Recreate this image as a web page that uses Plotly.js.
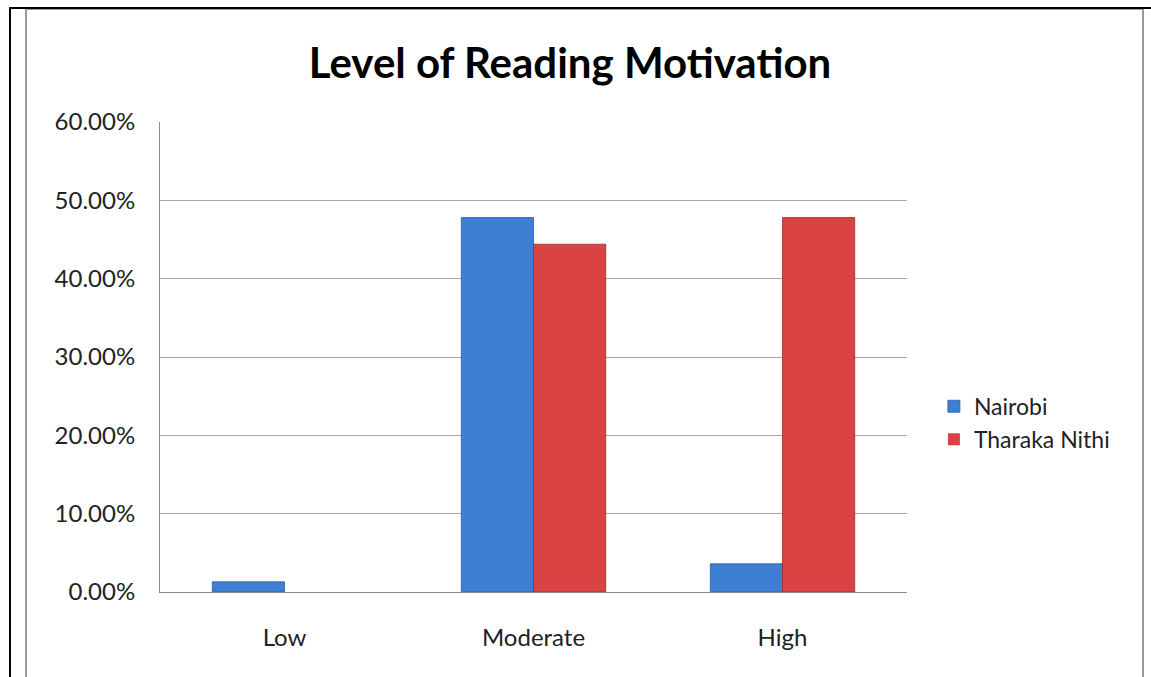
<!DOCTYPE html>
<html>
<head>
<meta charset="utf-8">
<script src="https://cdn.plot.ly/plotly-3.0.1.min.js"></script>
<style>
  html, body { margin: 0; padding: 0; background: #fff; width: 1151px; height: 677px; overflow: hidden; }
  #outer { position: absolute; left: 9px; top: 7px; width: 1200px; height: 800px; border-left: 2px solid #000; border-top: 2px solid #000; }
  #frame { position: absolute; left: 25px; top: 9px; width: 1115px; height: 800px; border-left: 2px solid #9a9a9a; border-top: 1px solid #9a9a9a; border-right: 2px solid #9a9a9a; }
  #chart { position: absolute; left: 0; top: 0; width: 1151px; height: 677px; }
</style>
</head>
<body>
<div id="outer"></div>
<div id="frame"></div>
<div id="chart"></div>
<script>
const categories = ["Low", "Moderate", "High"];
const nairobi = [0.013, 0.478, 0.036];
const tharakaNithi = [0.0, 0.444, 0.478];
const seriesNames = ["Nairobi", "Tharaka Nithi"];
const yTickValues = [0, 0.1, 0.2, 0.3, 0.4, 0.5, 0.6];

const font = "Lato, 'Open Sans', 'DejaVu Sans', sans-serif";
const edge = vals => vals.map(v => (v > 0 ? 0.8 : 0));

const traces = [
  {
    type: "bar", name: seriesNames[0], x: categories, y: nairobi,
    marker: { color: "#3f7fd3", line: { color: "#2b5e9e", width: edge(nairobi) } },
    hoverinfo: "x+y+name"
  },
  {
    type: "bar", name: seriesNames[1], x: categories, y: tharakaNithi,
    marker: { color: "#d94343", line: { color: "#9e2a2a", width: edge(tharakaNithi) } },
    hoverinfo: "x+y+name"
  }
];

const layout = {
  width: 1151, height: 677,
  paper_bgcolor: "rgba(0,0,0,0)",
  plot_bgcolor: "rgba(0,0,0,0)",
  margin: { l: 160, r: 244, t: 122, b: 85, pad: 0 },
  barmode: "group",
  bargap: 0.42,
  bargroupgap: 0,
  title: {
    text: "<b>Level of Reading Motivation</b>",
    font: { family: font, size: 42, color: "#000" },
    x: 570 / 1151, xref: "container", xanchor: "center",
    y: 1 - 63 / 677, yref: "container", yanchor: "middle"
  },
  xaxis: {
    type: "category",
    showgrid: false,
    showline: true, linecolor: "#8c8c8c", linewidth: 1,
    ticks: "", ticklabelstandoff: 24,
    tickfont: { family: font, size: 24, color: "#222" },
    zeroline: false
  },
  yaxis: {
    range: [0, 0.6],
    tickvals: yTickValues,
    tickformat: ".2%",
    showgrid: true, gridcolor: "#a6a6a6", gridwidth: 1,
    showline: true, linecolor: "#8c8c8c", linewidth: 1,
    zeroline: false,
    ticks: "", ticklabelstandoff: 19,
    tickfont: { family: font, size: 24, color: "#222" }
  },
  showlegend: true,
  legend: {
    x: 1.036, xanchor: "left",
    y: 0.36, yanchor: "middle",
    font: { family: font, size: 23, color: "#222" },
    bgcolor: "rgba(0,0,0,0)",
    itemwidth: 30,
    tracegroupgap: 0
  }
};

Plotly.newPlot("chart", traces, layout, { displayModeBar: false, staticPlot: true });
</script>
</body>
</html>
